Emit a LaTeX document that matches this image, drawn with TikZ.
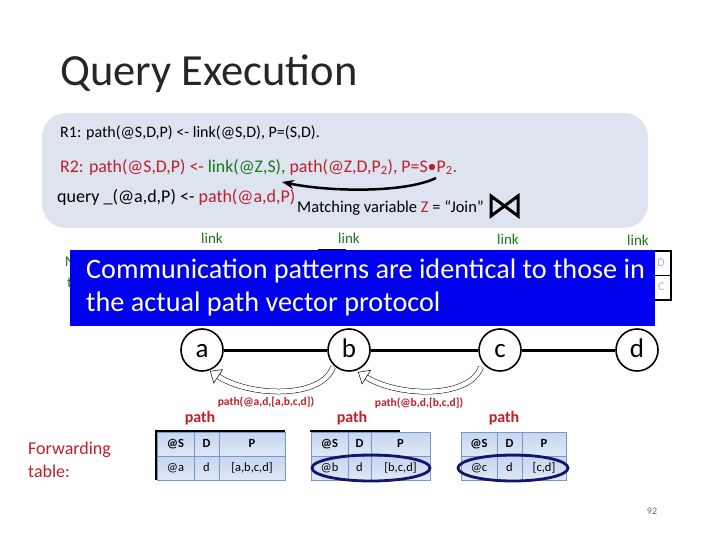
\documentclass[tikz,border=0pt]{standalone}
\usepackage{fontspec}
\setmainfont{Carlito}
\usetikzlibrary{arrows.meta}
\definecolor{ruleRed}{RGB}{192,30,40}
\definecolor{linkGreen}{RGB}{25,120,25}
\definecolor{boxGray}{RGB}{221,228,240}
\definecolor{noteBlue}{RGB}{0,0,240}
\definecolor{noteText}{RGB}{255,255,225}
\definecolor{cellTop}{RGB}{196,214,240}
\definecolor{cellBot}{RGB}{222,232,246}
\definecolor{cellLine}{RGB}{120,150,200}
\definecolor{ringNavy}{RGB}{20,20,110}
\newcommand{\fs}[1]{\fontsize{#1}{#1}\selectfont}
\tikzset{
  rule/.style={anchor=west, inner sep=0pt},
  peer/.style={circle, draw, line width=1.6pt, minimum size=42pt, inner sep=0pt, fill=white, font=\fs{27},
    text height=15pt, text depth=0pt},
  hop/.style={line width=3pt},
  msg/.style={line width=0.5pt, double=white, double distance=4.5pt,
    -{Triangle[open, length=10pt, width=17pt, fill=white, line width=0.5pt]}},
  linklabel/.style={text=linkGreen, font=\fs{15}},
  pathlabel/.style={text=ruleRed, font=\fs{16}\bfseries},
  msgtext/.style={text=ruleRed, font=\fs{11.5}\bfseries},
  cell/.style={font=\fs{12.5}, text height=9pt, text depth=2pt, inner sep=0pt}
}
\begin{document}
\begin{tikzpicture}[x=1pt,y=-1pt]
  \useasboundingbox (0,0) rectangle (720,540);
  % title
  \node[rule, font=\fs{44.5}, text=black!85] (title) at (60,74) {Query Execution};
  % rules box
  \fill[boxGray, rounded corners=24pt] (42,113) rectangle (648,228);
  \node[rule, font=\fs{16}] (r1) at (60,133) {R1: path(@S,D,P) <- link(@S,D), P=(S,D).};
  \node[rule, font=\fs{17.8}, text=ruleRed] (r2) at (60,167)
    {R2: path(@S,D,P) <- \textcolor{linkGreen}{link(@Z,S),} path(@Z,D,P\textsubscript{2}), P=S•P\textsubscript{2}.};
  \node[rule, font=\fs{18}] (query) at (57,197) {query \_(@a,d,P) <- \textcolor{ruleRed}{path(@a,d,P)}};
  \node[rule, font=\fs{16.5}] (match) at (297,208) {Matching variable \textcolor{ruleRed}{Z} = “Join”};
  \coordinate (zTail) at (436,178);
  \coordinate (zHead) at (282,182);
  \draw[line width=2.5pt, -{Stealth[length=12pt, width=9pt]}] (zTail) .. controls (405,193) and (330,192) .. (zHead);
  % join symbol
  \draw[line width=3pt, line join=miter] (491,196) -- (518,216) -- (518,196) -- (491,216) -- cycle;
  % link labels
  \node[linklabel] (l1) at (212,238) {link};
  \node[linklabel] (l2) at (349,238) {link};
  \node[linklabel] (l3) at (508,239) {link};
  \node[linklabel] (l4) at (638,240) {link};
  % neighbor table peeking out
  \node[rule, text=linkGreen, font=\fs{15}] (nb1) at (65,262) {N};
  \node[rule, text=linkGreen, font=\fs{15}] (nb2) at (67,283) {ta};
  \draw[line width=1.5pt] (650,251) -- (671,251) -- (671,300) -- (650,300);
  \draw[line width=1pt] (650,275) -- (671,275);
  \draw[line width=1pt] (318,249) -- (346,249);
  \node[text=cellLine!70, font=\fs{12}] (nbD) at (661,263) {D};
  \node[text=cellLine!70, font=\fs{12}] (nbC) at (661,287) {C};
  % network
  \node[peer] (a) at (202,350) {a};
  \node[peer] (b) at (349,350) {b};
  \node[peer] (c) at (500,350) {c};
  \node[peer] (d) at (637,350) {d};
  \draw[hop] (a) -- (b);
  \draw[hop] (b) -- (c);
  \draw[hop] (c) -- (d);
  % blue note
  \fill[noteBlue] (70,250) rectangle (655,326);
  \node[rule, text=noteText, font=\fs{28.2}] (note1) at (86,271) {Communication patterns are identical to those in};
  \node[rule, text=noteText, font=\fs{28.2}] (note2) at (86,304) {the actual path vector protocol};
  % messages
  \coordinate (m1Tail) at (333,367);
  \coordinate (m1Head) at (210,371);
  \coordinate (m2Tail) at (481,367);
  \coordinate (m2Head) at (358,372);
  \draw[msg] (m1Tail) .. controls (322,399) and (250,397) .. (m1Head);
  \draw[msg] (m2Tail) .. controls (470,399) and (398,397) .. (m2Head);
  \node[msgtext] (msg1) at (266,402) {path(@a,d,[a,b,c,d])};
  \node[msgtext] (msg2) at (419,403) {path(@b,d,[b,c,d])};
  \node[pathlabel] (p1) at (200,418) {path};
  \node[pathlabel] (p2) at (352,418) {path};
  \node[pathlabel] (p3) at (504,418) {path};
  % forwarding tables
  \node[rule, text=ruleRed, font=\fs{18}] (fw1) at (28,450) {Forwarding};
  \node[rule, text=ruleRed, font=\fs{18}] (fw2) at (28,471) {table:};
  \foreach \xa/\xb/\xc/\xd/\src/\pth in {157/194/219/285/@a/{[a,b,c,d]}, 311/348/371/430/@b/{[b,c,d]}, 461/497/522/566/@c/{[c,d]}}{
    \shade[top color=cellTop, bottom color=cellBot] (\xa,432) rectangle (\xd,456);
    \shade[top color=cellTop, bottom color=cellBot] (\xa,456) rectangle (\xd,480);
    \draw[cellLine, line width=0.6pt] (\xa,432) rectangle (\xd,480);
    \draw[cellLine, line width=0.6pt] (\xa,456) -- (\xd,456);
    \draw[cellLine, line width=0.6pt] (\xb,432) -- (\xb,480);
    \draw[cellLine, line width=0.6pt] (\xc,432) -- (\xc,480);
    \node[cell, font=\fs{12.5}\bfseries] at ({(\xa+\xb)/2},444) {@S};
    \node[cell, font=\fs{12.5}\bfseries] at ({(\xb+\xc)/2},444) {D};
    \node[cell, font=\fs{12.5}\bfseries] at ({(\xc+\xd)/2},444) {P};
    \node[cell] at ({(\xa+\xb)/2},468) {\src};
    \node[cell] at ({(\xb+\xc)/2},468) {d};
    \node[cell] at ({(\xc+\xd)/2},468) {\pth};
  }
  \draw[line width=1.5pt] (156,480) -- (156,431) -- (285,431);
  \draw[line width=1.5pt] (310,431) -- (400,431);
  % selected entries
  \draw[ringNavy, line width=2.8pt] (371,468) ellipse [x radius=59, y radius=13];
  \draw[ringNavy, line width=2.8pt] (513,468) ellipse [x radius=55, y radius=13];
  % page number
  \node[text=black!60, font=\fs{10}] (page) at (652,511) {92};
\end{tikzpicture}
\end{document}
